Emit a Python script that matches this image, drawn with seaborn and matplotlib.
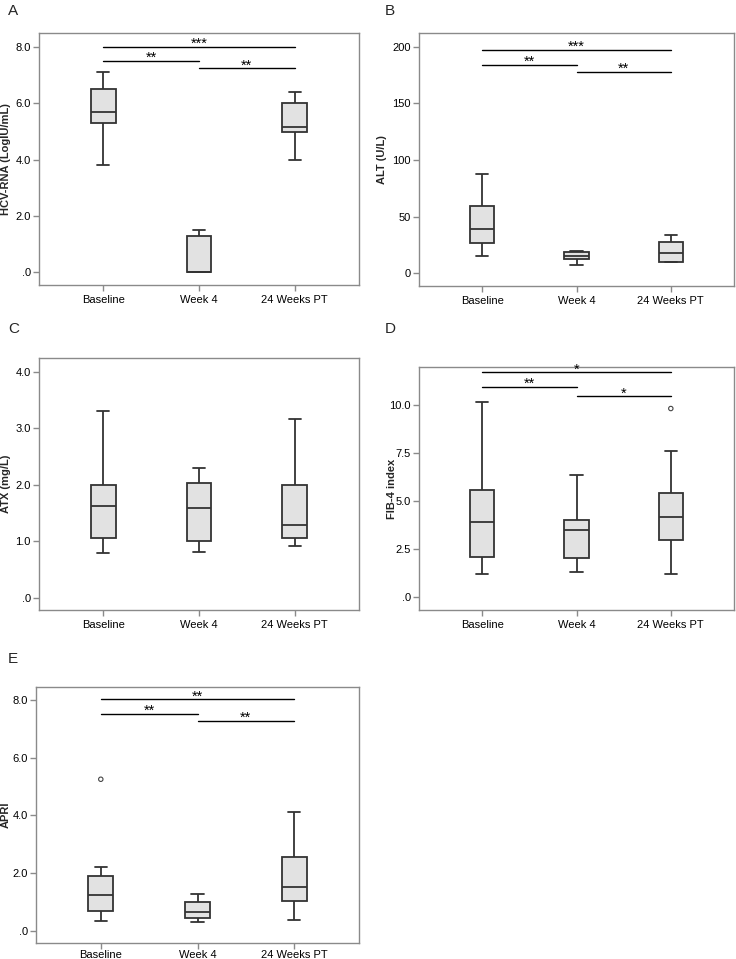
import numpy as np
import pandas as pd
import matplotlib
matplotlib.use("Agg")
import matplotlib.pyplot as plt
import seaborn as sns

sns.set_style("white")
plt.rcParams['font.family'] = ['Liberation Sans', 'DejaVu Sans']

GROUPS = ["Baseline", "Week 4", "24 Weeks PT"]

# five-number summaries per group: [min, Q1, median, Q3, max]
hcv = {"Baseline": [3.80, 5.31, 5.70, 6.51, 7.12],
       "Week 4": [0.0, 0.0, 0.0, 1.29, 1.49],
       "24 Weeks PT": [3.99, 4.99, 5.16, 6.00, 6.41]}
alt = {"Baseline": [15.6, 26.5, 38.8, 59.4, 87.9],
       "Week 4": [7.6, 12.6, 15.0, 18.5, 19.4],
       "24 Weeks PT": [9.7, 10.3, 17.6, 27.6, 33.8]}
atx = {"Baseline": [0.78, 1.06, 1.62, 2.00, 3.30],
       "Week 4": [0.80, 1.00, 1.58, 2.02, 2.29],
       "24 Weeks PT": [0.92, 1.06, 1.29, 2.00, 3.16]}
fib4 = {"Baseline": [1.23, 2.09, 3.91, 5.59, 10.17],
        "Week 4": [1.33, 2.06, 3.50, 4.02, 6.37],
        "24 Weeks PT": [1.23, 2.96, 4.17, 5.44, 7.60]}
apri = {"Baseline": [0.32, 0.68, 1.23, 1.89, 2.21],
        "Week 4": [0.29, 0.45, 0.66, 0.99, 1.28],
        "24 Weeks PT": [0.38, 1.04, 1.51, 2.54, 4.11]}

fib4_outliers = {"24 Weeks PT": [9.82]}
apri_outliers = {"Baseline": [5.25]}

# significance brackets: (from group, to group, level, stars)
hcv_sig = [(0, 2, 8.01, "***"), (0, 1, 7.50, "**"), (1, 2, 7.24, "**")]
alt_sig = [(0, 2, 197, "***"), (0, 1, 184, "**"), (1, 2, 178, "**")]
fib4_sig = [(0, 2, 11.71, "*"), (0, 1, 10.95, "**"), (1, 2, 10.46, "*")]
apri_sig = [(0, 2, 8.02, "**"), (0, 1, 7.52, "**"), (1, 2, 7.28, "**")]

hcv_ticks = [0, 2, 4, 6, 8]
hcv_ticklabels = [".0", "2.0", "4.0", "6.0", "8.0"]
alt_ticks = [0, 50, 100, 150, 200]
alt_ticklabels = ["0", "50", "100", "150", "200"]
atx_ticks = [0, 1, 2, 3, 4]
atx_ticklabels = [".0", "1.0", "2.0", "3.0", "4.0"]
fib4_ticks = [0, 2.5, 5, 7.5, 10]
fib4_ticklabels = [".0", "2.5", "5.0", "7.5", "10.0"]
apri_ticks = [0, 2, 4, 6, 8]
apri_ticklabels = [".0", "2.0", "4.0", "6.0", "8.0"]

W, H = 736, 959
fig = plt.figure(figsize=(W / 100, H / 100), dpi=100)

BOX_FILL = "#e2e2e2"
EDGE = "#333333"
FRAME = "#8a8a8a"


def px_axes(left, top, right, bottom):
    return fig.add_axes([left / W, 1 - bottom / H, (right - left) / W, (bottom - top) / H])


def draw(ax, stats, outliers, sig, ticks, ticklabels, ylim, ylabel, labelx, xpad=3):
    rows = [(g, v) for g in GROUPS for v in stats[g]]
    df = pd.DataFrame(rows, columns=["group", "value"])
    sns.boxplot(data=df, x="group", y="value", order=GROUPS, ax=ax,
                whis=(0, 100), width=0.26, color=BOX_FILL, linecolor=EDGE,
                linewidth=1.3, showfliers=False, saturation=1)
    for g, vals in outliers.items():
        ax.scatter([GROUPS.index(g)] * len(vals), vals, s=10,
                   facecolors="none", edgecolors="#444444", linewidths=0.8, zorder=5)
    for x0, x1, y, stars in sig:
        ax.plot([x0, x1], [y, y], color="black", lw=1.0)
        ax.annotate(stars, xy=((x0 + x1) / 2, y), xytext=(0, -0.8),
                    textcoords="offset points", ha="center", va="baseline",
                    fontsize=10.5, color="black")
    ax.set_xlim(-0.67, 2.67)
    ax.set_ylim(*ylim)
    ax.set_yticks(ticks)
    ax.set_yticklabels(ticklabels)
    ax.set_xlabel("")
    ax.set_ylabel(ylabel, fontsize=8, fontweight="bold")
    ax.yaxis.set_label_coords(labelx, 0.5)
    for s in ax.spines.values():
        s.set_color(FRAME)
        s.set_linewidth(1.0)
    ax.tick_params(axis="both", which="both", bottom=True, left=True,
                   direction="out", length=4.5, width=1.0, color=FRAME,
                   labelsize=8, labelcolor="black")
    ax.tick_params(axis="y", pad=1.5)
    ax.tick_params(axis="x", pad=xpad)


axA = px_axes(39, 33, 359, 285)
draw(axA, hcv, {}, hcv_sig, hcv_ticks, hcv_ticklabels, (-0.46, 8.5),
     "HCV-RNA (LogIU/mL)", -0.0875)
axB = px_axes(419, 33, 734, 286)
draw(axB, alt, {}, alt_sig, alt_ticks, alt_ticklabels, (-11.2, 212),
     "ALT (U/L)", -0.10)
axC = px_axes(39, 358, 359, 610)
draw(axC, atx, {}, [], atx_ticks, atx_ticklabels, (-0.22, 4.24),
     "ATX (mg/L)", -0.0875)
axD = px_axes(419, 367, 734, 610)
draw(axD, fib4, fib4_outliers, fib4_sig, fib4_ticks, fib4_ticklabels, (-0.66, 11.98),
     "FIB-4 index", -0.07)
axE = px_axes(36, 687, 359, 943)
draw(axE, apri, apri_outliers, apri_sig, apri_ticks, apri_ticklabels, (-0.43, 8.45),
     "APRI", -0.077, xpad=0.5)

for letter, (x, y) in zip("ABCDE", [(8, 4), (385, 4), (8, 322), (385, 322), (8, 652)]):
    fig.text(x / W, 1 - y / H, letter, ha="left", va="top", fontsize=11)

fig.savefig("out.png", dpi=100)
